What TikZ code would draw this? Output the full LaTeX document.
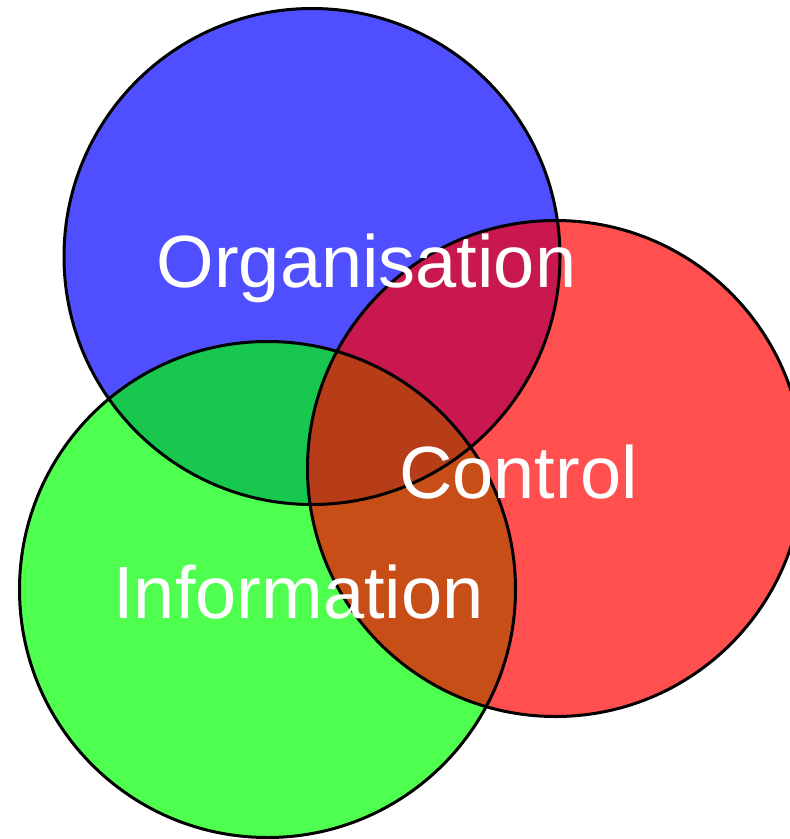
\documentclass[tikz,border=0pt]{standalone}
\usepackage{fontspec}
\setmainfont{Liberation Sans}
\begin{document}
\begin{tikzpicture}[x=1pt,y=-1pt,
  ring/.style={draw=black,line width=3pt},
  lbl/.style={text=white,inner sep=0pt,anchor=base,font=\fontsize{74}{80}\selectfont}]
\useasboundingbox (0,0) rectangle (790,839);
\coordinate (cb) at (312,256.5);
\coordinate (cg) at (267.5,589.5);
\coordinate (cr) at (555.5,468.5);
\fill[blue,fill opacity=0.69] (cb) circle[radius=248];
\fill[green,fill opacity=0.69] (cg) circle[radius=248];
\fill[red,fill opacity=0.69] (cr) circle[radius=248];
\draw[ring] (cb) circle[radius=248];
\draw[ring] (cg) circle[radius=248];
\draw[ring] (cr) circle[radius=248];
\node[lbl] (org) at (366.5,287) {Organisation};
\node[lbl] (ctl) at (518.5,498) {Control};
\node[lbl] (inf) at (298.5,618) {Information};
\end{tikzpicture}
\end{document}
